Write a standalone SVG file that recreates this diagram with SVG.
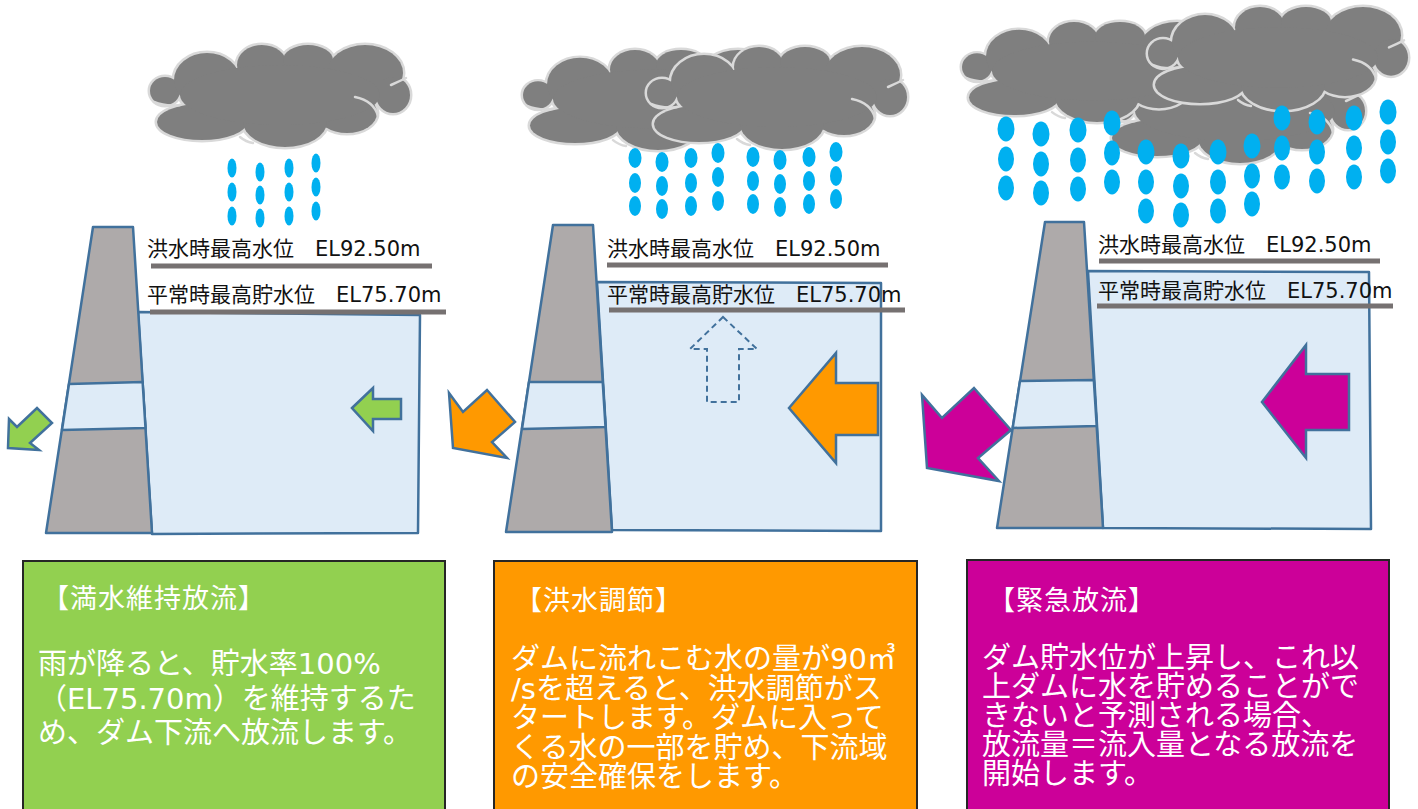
<svg xmlns="http://www.w3.org/2000/svg" xmlns:xlink="http://www.w3.org/1999/xlink" width="1418" height="809" viewBox="0 0 1418 809">
  <style>
    .lbl { font-family: "DejaVu Sans", "Noto Sans CJK JP", sans-serif; font-size: 21px; fill: #111; }
    .title { font-family: "DejaVu Sans", "Noto Sans CJK JP", sans-serif; font-size: 27px; fill: #fff; letter-spacing: 1px; }
    .body { font-family: "DejaVu Sans", "Noto Sans CJK JP", sans-serif; font-size: 29px; fill: #fff; }
    .bar { stroke: #767171; stroke-width: 5; }
    .water { fill: #DEEBF7; stroke: #41719C; stroke-width: 2.5; stroke-linejoin: round; }
    .dam { fill: #AEAAAA; stroke: #41719C; stroke-width: 2.5; stroke-linejoin: round; }
    .band { fill: #DEEBF7; stroke: #41719C; stroke-width: 2.5; stroke-linejoin: round; }
    .arrow { stroke: #41719C; stroke-width: 2.5; stroke-linejoin: miter; }
    .drop { fill: #00B0F0; }
    .cloud-edge { fill: #D9D9D9; stroke: #D9D9D9; stroke-width: 5; }
    .cloud-fill { fill: #7F7F7F; stroke: none; }
    .cloud-line { fill: none; stroke: #D9D9D9; stroke-width: 2.5; stroke-linecap: round; }
    .box { stroke: #262626; stroke-width: 2; }
  </style>
  <defs>
    <!-- cloud silhouette built from overlapping puffs, local box 260 x 102 -->
    <g id="cloudBlobs">
      <ellipse cx="15" cy="46" rx="15" ry="14"/>
      <ellipse cx="52" cy="77" rx="45" ry="18"/>
      <ellipse cx="57" cy="35" rx="33" ry="27"/>
      <ellipse cx="112" cy="20" rx="25" ry="20"/>
      <ellipse cx="158" cy="15" rx="25" ry="15"/>
      <ellipse cx="215" cy="28" rx="38" ry="28"/>
      <ellipse cx="243" cy="50" rx="17" ry="18"/>
      <ellipse cx="197" cy="68" rx="30" ry="20"/>
      <ellipse cx="135" cy="77" rx="42" ry="25"/>
      <ellipse cx="130" cy="50" rx="100" ry="30"/>
    </g>
    <g id="cloudLines">
      <path class="cloud-line" d="M4,57 Q16,62 30,60"/>
      <path class="cloud-line" d="M205,52 Q224,56 228,71"/>
      <path class="cloud-line" d="M241,40 Q250,36 256,33"/>
      <path class="cloud-line" d="M90,92 Q96,97 103,98"/>
    </g>
    <g id="cloud">
      <use xlink:href="#cloudBlobs" class="cloud-edge"/>
      <use xlink:href="#cloudBlobs" class="cloud-fill"/>
      <use xlink:href="#cloudLines"/>
    </g>
  </defs>

  <rect width="1418" height="809" fill="#fff"/>

  <!-- weather: clouds and rain -->
  <g id="weather-1">
    <use xlink:href="#cloud" transform="translate(150,45)"/>
    <g class="drop">
      <ellipse cx="232" cy="168" rx="4.5" ry="9.5"/><ellipse cx="232" cy="192" rx="4.5" ry="9.5"/><ellipse cx="232" cy="216" rx="4.5" ry="9.5"/>
      <ellipse cx="260" cy="172" rx="4.5" ry="9.5"/><ellipse cx="260" cy="195" rx="4.5" ry="9.5"/><ellipse cx="260" cy="218" rx="4.5" ry="9.5"/>
      <ellipse cx="289" cy="168" rx="4.5" ry="9.5"/><ellipse cx="289" cy="192" rx="4.5" ry="9.5"/><ellipse cx="289" cy="216" rx="4.5" ry="9.5"/>
      <ellipse cx="316" cy="163" rx="4.5" ry="9.5"/><ellipse cx="316" cy="187" rx="4.5" ry="9.5"/><ellipse cx="316" cy="211" rx="4.5" ry="9.5"/>
    </g>
  </g>

  <g id="weather-2">
    <use xlink:href="#cloud" transform="translate(523,50) scale(1,0.98)"/>
    <use xlink:href="#cloud" transform="translate(647,47)"/>
    <g class="drop">
      <ellipse cx="635" cy="158" rx="6.5" ry="10"/><ellipse cx="635" cy="183" rx="6" ry="10"/><ellipse cx="635" cy="206" rx="6" ry="10"/>
      <ellipse cx="662" cy="162" rx="6.5" ry="10"/><ellipse cx="662" cy="186" rx="6" ry="10"/><ellipse cx="662" cy="209" rx="6" ry="10"/>
      <ellipse cx="691" cy="158" rx="6.5" ry="10"/><ellipse cx="691" cy="183" rx="6" ry="10"/><ellipse cx="691" cy="206" rx="6" ry="10"/>
      <ellipse cx="718" cy="153" rx="6.5" ry="10"/><ellipse cx="718" cy="177" rx="6" ry="10"/><ellipse cx="718" cy="201" rx="6" ry="10"/>
      <ellipse cx="753" cy="157" rx="6.5" ry="10"/><ellipse cx="753" cy="181" rx="6" ry="10"/><ellipse cx="753" cy="204" rx="6" ry="10"/>
      <ellipse cx="780" cy="160" rx="6.5" ry="10"/><ellipse cx="780" cy="184" rx="6" ry="10"/><ellipse cx="780" cy="207" rx="6" ry="10"/>
      <ellipse cx="809" cy="157" rx="6.5" ry="10"/><ellipse cx="809" cy="181" rx="6" ry="10"/><ellipse cx="809" cy="204" rx="6" ry="10"/>
      <ellipse cx="836" cy="152" rx="6.5" ry="10"/><ellipse cx="836" cy="176" rx="6" ry="10"/><ellipse cx="836" cy="199" rx="6" ry="10"/>
    </g>
  </g>

  <g id="weather-3">
    <use xlink:href="#cloud" transform="translate(1105,61)"/>
    <use xlink:href="#cloud" transform="translate(962,22) scale(1,0.98)"/>
    <use xlink:href="#cloud" transform="translate(1148,7) scale(1,1.01)"/>
    <g class="drop">
      <ellipse cx="1006" cy="129" rx="8.5" ry="12.5"/><ellipse cx="1006" cy="159" rx="8" ry="12.5"/><ellipse cx="1006" cy="188" rx="8" ry="12.5"/>
      <ellipse cx="1041" cy="134" rx="8.5" ry="12.5"/><ellipse cx="1041" cy="164" rx="8" ry="12.5"/><ellipse cx="1041" cy="193" rx="8" ry="12.5"/>
      <ellipse cx="1078" cy="130" rx="8.5" ry="12.5"/><ellipse cx="1078" cy="160" rx="8" ry="12.5"/><ellipse cx="1078" cy="189" rx="8" ry="12.5"/>
      <ellipse cx="1112" cy="123" rx="8.5" ry="12.5"/><ellipse cx="1112" cy="153" rx="8" ry="12.5"/><ellipse cx="1112" cy="182" rx="8" ry="12.5"/>
      <ellipse cx="1146" cy="152" rx="8.5" ry="12.5"/><ellipse cx="1146" cy="182" rx="8" ry="12.5"/><ellipse cx="1146" cy="211" rx="8" ry="12.5"/>
      <ellipse cx="1181" cy="156" rx="8.5" ry="12.5"/><ellipse cx="1181" cy="186" rx="8" ry="12.5"/><ellipse cx="1181" cy="215" rx="8" ry="12.5"/>
      <ellipse cx="1218" cy="152" rx="8.5" ry="12.5"/><ellipse cx="1218" cy="182" rx="8" ry="12.5"/><ellipse cx="1218" cy="211" rx="8" ry="12.5"/>
      <ellipse cx="1252" cy="146" rx="8.5" ry="12.5"/><ellipse cx="1252" cy="176" rx="8" ry="12.5"/><ellipse cx="1252" cy="204" rx="8" ry="12.5"/>
      <ellipse cx="1282" cy="118" rx="8.5" ry="12.5"/><ellipse cx="1282" cy="148" rx="8" ry="12.5"/><ellipse cx="1282" cy="177" rx="8" ry="12.5"/>
      <ellipse cx="1317" cy="122" rx="8.5" ry="12.5"/><ellipse cx="1317" cy="152" rx="8" ry="12.5"/><ellipse cx="1317" cy="181" rx="8" ry="12.5"/>
      <ellipse cx="1354" cy="118" rx="8.5" ry="12.5"/><ellipse cx="1354" cy="148" rx="8" ry="12.5"/><ellipse cx="1354" cy="177" rx="8" ry="12.5"/>
      <ellipse cx="1388" cy="112" rx="8.5" ry="12.5"/><ellipse cx="1388" cy="142" rx="8" ry="12.5"/><ellipse cx="1388" cy="171" rx="8" ry="12.5"/>
    </g>
  </g>

  <!-- dam 1: full-level release -->
  <g id="dam-1">
    <polygon class="water" points="138,312 420,315 418,533 152,534"/>
    <polygon class="dam" points="93,227 133,227 152,533 46,533"/>
    <polygon class="band" points="69,384 142.6,382 145.5,428 62,430"/>
    <text class="lbl" x="147" y="256">洪水時最高水位　EL92.50m</text>
    <line class="bar" x1="151" y1="266" x2="432" y2="266"/>
    <text class="lbl" x="147" y="302">平常時最高貯水位　EL75.70m</text>
    <line class="bar" x1="150" y1="312" x2="446" y2="312"/>
  </g>

  <!-- dam 2: flood control -->
  <g id="dam-2">
    <polygon class="water" points="597,282 881,283 881,531 612,530"/>
    <polygon class="dam" points="553,225 593,225 612,532 506,532"/>
    <polygon class="band" points="529,382 602.7,382 605.5,427 522,429"/>
    <text class="lbl" x="607" y="256">洪水時最高水位　EL92.50m</text>
    <line class="bar" x1="607" y1="265" x2="888" y2="265"/>
    <text class="lbl" x="607" y="301.5">平常時最高貯水位　EL75.70m</text>
    <line class="bar" x1="609" y1="310" x2="905" y2="310"/>
  </g>

  <!-- dam 3: emergency release -->
  <g id="dam-3">
    <polygon class="water" points="1088,271 1369,272 1371,529 1103,528"/>
    <polygon class="dam" points="1045,222 1084,222 1103,528 997,528"/>
    <polygon class="band" points="1020,381 1093.8,380 1096.7,426 1012.7,428"/>
    <text class="lbl" x="1098" y="251.5">洪水時最高水位　EL92.50m</text>
    <line class="bar" x1="1099" y1="261" x2="1380" y2="261"/>
    <text class="lbl" x="1098" y="298">平常時最高貯水位　EL75.70m</text>
    <line class="bar" x1="1097" y1="306" x2="1393" y2="306"/>
  </g>

  <!-- flow arrows -->
  <g id="flows">
    <polygon id="inflow-1" class="arrow" fill="#92D050" points="352,408 373,388 373,399 401,399 401,419 373,419 373,431"/>
    <polygon id="outflow-1" class="arrow" fill="#92D050" points="8,448 9,419 17,427 37,408 52,423 30,443 39,450"/>
    <polygon id="inflow-2" class="arrow" fill="#FF9900" points="789,408 836,353 836,383 878,383 878,435 836,435 836,463"/>
    <polygon id="outflow-2" class="arrow" fill="#FF9900" points="453,448 449,393 463,412 487,390 515,422 492,442 507,458"/>
    <polygon id="rise-2" fill="none" stroke="#41719C" stroke-width="2" stroke-dasharray="6 4" points="723,317 757,349 739,349 739,402 707,402 707,349 690,349"/>
    <polygon id="inflow-3" class="arrow" fill="#CC0099" points="1262,402 1306,345 1306,374 1349,374 1349,430 1306,430 1306,458"/>
    <polygon id="outflow-3" class="arrow" fill="#CC0099" points="927,468 922,395 942,418 974,388 1011,430 978,458 999,481"/>
  </g>

  <!-- explanation boxes: each paragraph is one text with a tspan per line -->
  <g id="box-1">
    <rect class="box" x="23" y="561" width="422" height="260" fill="#92D050"/>
    <text class="title" x="42" y="608">【満水維持放流】</text>
    <text class="body" x="38" y="674">
      <tspan x="38" y="674">雨が降ると、貯水率100%</tspan>
      <tspan x="38" y="708.5">（EL75.70m）を維持するた</tspan>
      <tspan x="38" y="743">め、ダム下流へ放流します。</tspan>
    </text>
  </g>

  <g id="box-2">
    <rect class="box" x="494" y="561" width="423" height="260" fill="#FF9900"/>
    <text class="title" x="515" y="610">【洪水調節】</text>
    <text class="body" x="511" y="669">
      <tspan x="511" y="669">ダムに流れこむ水の量が90㎥</tspan>
      <tspan x="511" y="698.5">/sを超えると、洪水調節がス</tspan>
      <tspan x="511" y="728">タートします。ダムに入って</tspan>
      <tspan x="511" y="757.5">くる水の一部を貯め、下流域</tspan>
      <tspan x="511" y="787">の安全確保をします。</tspan>
    </text>
  </g>

  <g id="box-3">
    <rect class="box" x="967" y="560" width="422" height="261" fill="#CC0099"/>
    <text class="title" x="988" y="610">【緊急放流】</text>
    <text class="body" x="982" y="668">
      <tspan x="982" y="668">ダム貯水位が上昇し、これ以</tspan>
      <tspan x="982" y="697">上ダムに水を貯めることがで</tspan>
      <tspan x="982" y="726">きないと予測される場合、</tspan>
      <tspan x="982" y="755">放流量＝流入量となる放流を</tspan>
      <tspan x="982" y="784">開始します。</tspan>
    </text>
  </g>
</svg>
